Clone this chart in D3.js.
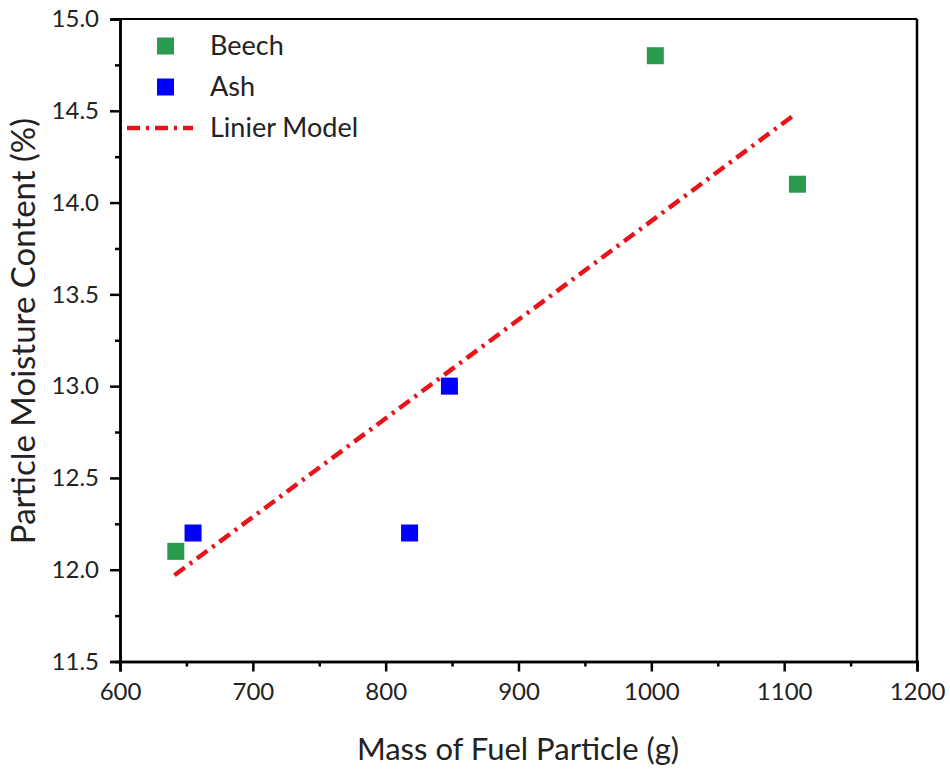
<!DOCTYPE html>
<html><head><meta charset="utf-8">
<script src="https://cdn.jsdelivr.net/npm/d3@7"></script>
<style>body{margin:0;background:#fff}svg{display:block}text{font-family:Lato,"Open Sans",sans-serif;fill:#222}</style>
</head><body><svg id="c" width="950" height="769"></svg>
<script>
const beechX = [642, 1003, 1110];
const beechY = [12.1, 14.8, 14.1];
const ashX = [655, 848, 818];
const ashY = [12.2, 13.0, 12.2];
const modelX = [641, 1108];
const modelY = [11.97, 14.48];
const xTicks = [600, 700, 800, 900, 1000, 1100, 1200];
const yTicks = [11.5, 12.0, 12.5, 13.0, 13.5, 14.0, 14.5, 15.0];
const legendLabels = ["Beech", "Ash", "Linier Model"];

const svg = d3.select("#c");
const L = 120, R = 917, T = 19, B = 661.5;
const x = d3.scaleLinear().domain([600, 1200]).range([L, R]);
const y = d3.scaleLinear().domain([11.5, 15.0]).range([B, T]);

// frame
svg.append("line").attr("x1", L).attr("x2", R).attr("y1", T).attr("y2", T).attr("stroke", "#000").attr("stroke-width", 2);
svg.append("line").attr("x1", R).attr("x2", R).attr("y1", T).attr("y2", B).attr("stroke", "#000").attr("stroke-width", 2.5);

// ticks
const xMinor = d3.range(650, 1200, 100);
const yMinor = d3.range(11.75, 15, 0.5);
const gx = svg.append("g").attr("transform", `translate(0,${B})`);
gx.call(d3.axisBottom(x).tickValues(xMinor).tickSize(5).tickFormat(""));
gx.append("g").call(d3.axisBottom(x).tickValues(xTicks).tickSize(10).tickPadding(11).tickFormat(d3.format("d")));
const gy = svg.append("g").attr("transform", `translate(${L},0)`);
gy.call(d3.axisLeft(y).tickValues(yMinor).tickSize(5).tickFormat(""));
gy.append("g").call(d3.axisLeft(y).tickValues(yTicks).tickSize(10).tickPadding(11).tickFormat(d3.format(".1f")));
svg.selectAll(".domain").attr("stroke", "#000").attr("stroke-width", 2.5);
svg.selectAll(".tick line").attr("stroke", "#000").attr("stroke-width", 2.5);
svg.selectAll(".tick text").attr("font-size", 24).attr("font-family", "Lato,'Open Sans',sans-serif").attr("fill", "#222");

// axis titles
svg.append("text").attr("x", 518).attr("y", 760).attr("text-anchor", "middle").attr("font-size", 31).text("Mass of Fuel Particle (g)");
svg.append("text").attr("transform", `translate(35,331) rotate(-90)`).attr("text-anchor", "middle").attr("font-size", 33).text("Particle Moisture Content (%)");

// model line
const line = d3.line().x(d => x(d[0])).y(d => y(d[1]));
svg.append("path").datum(d3.zip(modelX, modelY)).attr("d", line)
  .attr("fill", "none").attr("stroke", "#e8141c").attr("stroke-width", 4.5).attr("stroke-dasharray", "13,6,3,6");

// points
const S = 17;
function pts(xs, ys, col) {
  svg.append("g").selectAll("rect").data(d3.zip(xs, ys)).join("rect")
    .attr("x", d => x(d[0]) - S / 2).attr("y", d => y(d[1]) - S / 2)
    .attr("width", S).attr("height", S).attr("fill", col);
}
pts(beechX, beechY, "#2a9a4f");
pts(ashX, ashY, "#0000ff");

// legend
const lg = svg.append("g");
const ly = [46, 87, 128];
lg.append("rect").attr("x", 157).attr("y", ly[0] - 8.5).attr("width", S).attr("height", S).attr("fill", "#2a9a4f");
lg.append("rect").attr("x", 157).attr("y", ly[1] - 8.5).attr("width", S).attr("height", S).attr("fill", "#0000ff");
lg.append("line").attr("x1", 127).attr("x2", 193).attr("y1", ly[2]).attr("y2", ly[2])
  .attr("stroke", "#e8141c").attr("stroke-width", 4.5).attr("stroke-dasharray", "13,6,3,6");
legendLabels.forEach((t, i) => {
  lg.append("text").attr("x", 210).attr("y", ly[i]).attr("dy", "0.35em").attr("font-size", 27).text(t);
});
</script></body></html>
